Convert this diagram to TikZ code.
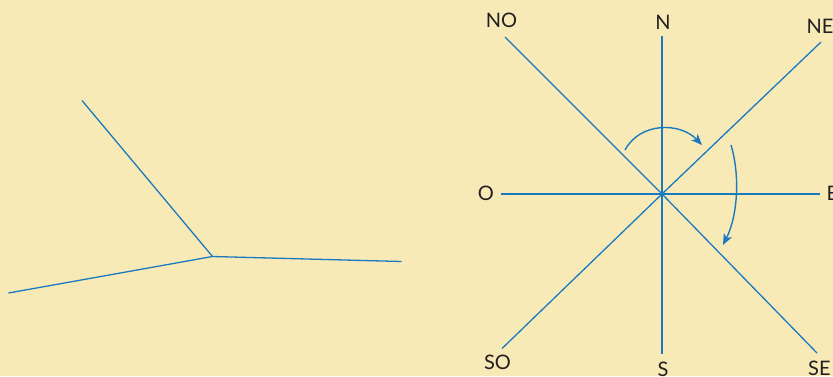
\documentclass[tikz,border=0pt]{standalone}
\usepackage{fontspec}
\setmainfont{Lato}
\usetikzlibrary{arrows.meta}
\definecolor{parchment}{RGB}{248,234,182}
\definecolor{lineblue}{RGB}{26,122,192}
\definecolor{labelink}{RGB}{35,31,32}

\tikzset{
  rayline/.style={draw=lineblue,line width=1.3pt},
  turnarrow/.style={draw=lineblue,line width=1.4pt,
    -{Stealth[length=11pt,width=9pt,inset=3pt]}},
  dirlabel/.style={inner sep=0pt,text=labelink,
    font=\fontsize{20}{20}\selectfont},
}

\begin{document}
\begin{tikzpicture}[x=1pt,y=-1pt]
  \fill[parchment] (0,0) rectangle (833,376);
  \useasboundingbox (0,0) rectangle (833,376);

  % three lines on the left
  \coordinate (j) at (212.5,256.5);
  \coordinate (jup) at (82,100.5);
  \coordinate (jright) at (401.5,261.5);
  \coordinate (jleft) at (8.5,293);
  \draw[rayline] (jup) -- (j) -- (jright);
  \draw[rayline] (jleft) -- (j);

  % compass rose
  \coordinate (c) at (662,194);
  \coordinate (n) at (662,36);
  \coordinate (s) at (662,354);
  \coordinate (o) at (501,194);
  \coordinate (e) at (819.5,194);
  \coordinate (no) at (505,37);
  \coordinate (ne) at (821,42);
  \coordinate (so) at (502,348.5);
  \coordinate (se) at (817,353);
  \foreach \p in {n,s,o,e,no,ne,so,se}
    \draw[rayline] (c) -- (\p);

  \node[dirlabel] (lno) at (501.5,20) {NO};
  \node[dirlabel] (ln) at (663,22.5) {N};
  \node[dirlabel,anchor=west] (lne) at (806.5,26) {NE};
  \node[dirlabel] (lo) at (486,193.5) {O};
  \node[dirlabel,anchor=west] (le) at (826.5,193.5) {E};
  \node[dirlabel] (lso) at (497.5,362) {SO};
  \node[dirlabel] (ls) at (663,369) {S};
  \node[dirlabel,anchor=west] (lse) at (808,368) {SE};

  % turning arrows
  \coordinate (a1) at (625,150);
  \coordinate (a2) at (702,145);
  \coordinate (b1) at (731,145);
  \coordinate (b2) at (723,245);
  \draw[turnarrow] (a1) .. controls (640,122) and (680,122) .. (a2);
  \draw[turnarrow] (b1) .. controls (740,175) and (738,215) .. (b2);
\end{tikzpicture}
\end{document}
